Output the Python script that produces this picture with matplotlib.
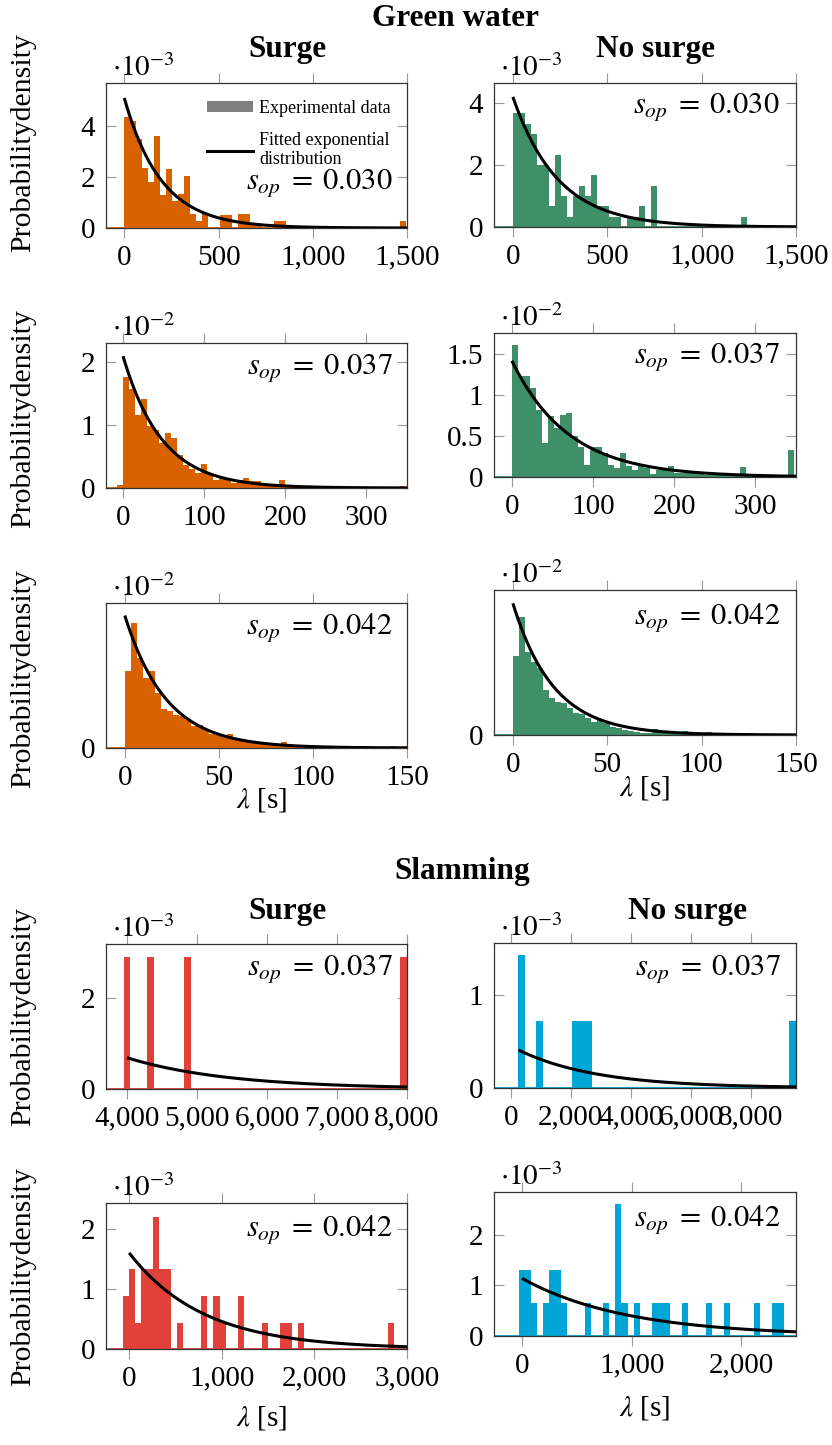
import numpy as np
import matplotlib
matplotlib.use('Agg')
import matplotlib.pyplot as plt
from matplotlib.ticker import FuncFormatter
from matplotlib.patches import Patch
from matplotlib.lines import Line2D

plt.rcParams['font.family'] = ['Liberation Serif', 'DejaVu Serif']
plt.rcParams['mathtext.fontset'] = 'stix'
plt.rcParams['font.size'] = 21

ORANGE = '#D96200'
GREEN = '#3F8F68'
RED = '#E2413A'
BLUE = '#00A6D6'

# ---- Green water histograms (bin start, bin width, heights in scaled units) ----
gw_s030_bins = (0, 31.8)
gw_s030_h = [4.37, 4.2, 3.5, 2.37, 1.8, 3.6, 1.3, 2.33, 1.05, 1.32, 2.04, 0.53, 0.26, 0.53,
             0, 0, 0.5, 0.5, 0, 0.53, 0.53, 0.1, 0.1, 0, 0, 0.26, 0.26,
             0, 0, 0, 0, 0, 0, 0, 0, 0, 0, 0, 0, 0, 0, 0, 0, 0, 0, 0, 0.26]
gw_n030_bins = (0, 31.8)
gw_n030_h = [3.68, 3.68, 3.33, 2.99, 1.99, 1.99, 0.67, 2.31, 0.99, 0.32, 0.99, 1.31, 0.99,
             1.67, 0.67, 0.67, 0.32, 0.32, 0, 0.32, 0.32, 0.67, 0, 1.31,
             0, 0, 0, 0, 0, 0, 0, 0, 0, 0, 0, 0, 0, 0, 0.32]
gw_s037_bins = (-7.4, 7.4)
gw_s037_h = [0.04, 1.77, 1.57, 1.17, 1.42, 0.98, 0.93, 0.72, 0.87, 0.80, 0.52, 0.36, 0.31,
             0.24, 0.39, 0.24, 0.12, 0.16, 0.16, 0.08, 0.12, 0.16, 0.11, 0.11, 0.05, 0.04,
             0.04, 0.13, 0.02, 0.02, 0.01, 0.01, 0.01, 0.01, 0, 0, 0, 0, 0, 0, 0, 0.02,
             0, 0, 0, 0, 0, 0.03]
gw_n037_bins = (0, 7.4)
gw_n037_h = [1.61, 1.24, 1.24, 1.09, 0.82, 0.41, 0.74, 0.60, 0.76, 0.78, 0.50, 0.37, 0.15,
             0.37, 0.37, 0.29, 0.15, 0.11, 0.29, 0.13, 0.08, 0.13, 0.11, 0.04, 0.08, 0.08,
             0.14, 0.05, 0.05, 0.07, 0.07, 0.04, 0.02, 0.04, 0.02, 0.02, 0.02, 0.02, 0.12,
             0.01, 0.01, 0.01, 0.01, 0.01, 0.01, 0.01, 0.33]
gw_s042_bins = (0, 3.2)
gw_s042_h = [2.63, 4.29, 3.09, 2.40, 2.63, 1.89, 1.34, 1.26, 1.15, 1.09, 0.95, 0.74, 0.80,
             0.63, 0.49, 0.44, 0.40, 0.49, 0.31, 0.23, 0.23, 0.17, 0.15, 0.11, 0.11, 0.15,
             0.19, 0.09, 0.06, 0.05, 0.03, 0.03, 0.02, 0.02, 0.02, 0.01, 0.02, 0.06, 0.01,
             0.01, 0.01, 0.01, 0.01, 0.01, 0.06, 0.01, 0.08]
gw_n042_bins = (0, 3.2)
gw_n042_h = [2.79, 4.18, 2.94, 2.59, 2.35, 1.59, 1.32, 1.18, 1.12, 0.94, 0.79, 0.74, 0.59,
             0.47, 0.53, 0.41, 0.29, 0.24, 0.18, 0.15, 0.12, 0.08, 0.08, 0.20, 0.12, 0.08,
             0.06, 0.06, 0.13, 0.04, 0.04, 0.04, 0.09, 0.02, 0.02, 0.02]

# ---- Slamming histograms (bar centres, heights, bar width) ----
sl_s037_x = [4000, 4340, 4860, 7952]
sl_s037_h = [2.92, 2.92, 2.92, 2.92]
sl_s037_w = 95
sl_n037_x = [356, 955, 2155, 2377, 2599, 9389]
sl_n037_h = [1.43, 0.72, 0.72, 0.72, 0.72, 0.72]
sl_n037_w = 222
sl_s042_x = [-32, 33, 98, 163, 228, 293, 358, 423, 553, 813, 943, 1008, 1203, 1463,
             1658, 1723, 1853, 2828]
sl_s042_h = [0.88, 1.33, 0.44, 1.33, 1.33, 2.2, 1.33, 1.33, 0.44, 0.88, 0.88, 0.44, 0.88,
             0.44, 0.44, 0.44, 0.44, 0.44]
sl_s042_w = 65
sl_n042_x = [0, 55, 110, 220, 275, 330, 385, 605, 770, 880, 935, 1045, 1210, 1265, 1320,
             1485, 1705, 1870, 2145, 2310, 2365]
sl_n042_h = [1.31, 1.31, 0.65, 0.65, 1.31, 1.31, 0.65, 0.65, 0.65, 2.61, 0.65, 0.65, 0.65,
             0.65, 0.65, 0.65, 0.65, 0.65, 0.65, 0.65, 0.65]
sl_n042_w = 55

# fitted exponential: (amplitude, scale, x start, x end)
fit_gw_s030 = (5.1, 196, 0, 1500)
fit_gw_n030 = (4.2, 238, 0, 1500)
fit_gw_s037 = (2.1, 48, 0, 350)
fit_gw_n037 = (1.42, 70, 0, 350)
fit_gw_s042 = (4.55, 22, 0, 150)
fit_gw_n042 = (4.65, 21.5, 0, 150)
fit_sl_s037 = (0.69, 1450, 4000, 8000)
fit_sl_n037 = (0.41, 2600, 250, 9500)
fit_sl_s042 = (1.6, 800, 0, 3000)
fit_sl_n042 = (1.14, 950, 0, 2500)

W, H = 832, 1445
fig = plt.figure(figsize=(W / 100, H / 100), dpi=100)


def add_ax(x0, y0, x1, y1):
    return fig.add_axes([x0 / W, 1 - y1 / H, (x1 - x0) / W, (y1 - y0) / H])


def style(ax, color, fit, xlim, xticks, ylim, yticks, expo, sop, sop_xy):
    ax.axhline(0, color=color, lw=1.3, zorder=1)
    x = np.linspace(fit[2], fit[3], 300)
    ax.plot(x, fit[0] * np.exp(-(x - fit[2]) / fit[1]), color='black', lw=2.2, zorder=3,
            solid_capstyle='butt')
    ax.set_xlim(xlim)
    ax.set_ylim(ylim)
    ax.set_xticks(xticks)
    ax.set_yticks(yticks)
    ax.xaxis.set_major_formatter(FuncFormatter(lambda v, p: f'{v:,.0f}'))
    ax.yaxis.set_major_formatter(FuncFormatter(lambda v, p: f'{v:g}'))
    ax.tick_params(axis='x', direction='out', top=True, length=7, width=0.8,
                   color='#999999', pad=5)
    ax.tick_params(axis='y', direction='in', right=True, length=7, width=0.8,
                   color='#999999', pad=8)
    for s in ax.spines.values():
        s.set_linewidth(0.9)
        s.set_color('#333333')
    ax.annotate(r'$\cdot 10^{%d}$' % expo, xy=(0.02, 1.0), xycoords='axes fraction',
                xytext=(0, 1), textcoords='offset points', ha='left', va='bottom')
    ax.text(sop_xy[0], sop_xy[1], r'$s_{op}\;=\;%s$' % sop, transform=ax.transAxes,
            ha='right', va='center', zorder=5, fontsize=22)


def hist(ax, bins, heights, color):
    left = [bins[0] + i * bins[1] for i in range(len(heights))]
    ax.bar(left, heights, width=bins[1], align='edge', color=color, linewidth=0, zorder=2)


# ---------------- Green water ----------------
ax = add_ax(106, 83, 407, 228)
hist(ax, gw_s030_bins, gw_s030_h, ORANGE)
style(ax, ORANGE, fit_gw_s030, (-97, 1500), [0, 500, 1000, 1500], (0, 5.69), [0, 2, 4],
      -3, '0.030', (0.953, 0.31))
ax.legend([Patch(facecolor='#808080', edgecolor='none'), Line2D([], [], color='black', lw=2.2)],
          ['Experimental data', 'Fitted exponential\ndistribution'],
          loc='upper left', bbox_to_anchor=(0.336, 0.885), frameon=False, fontsize=13,
          handlelength=2.55, handleheight=0.55, handletextpad=0.35, labelspacing=0.85,
          borderpad=0, borderaxespad=0)
for t in ax.get_legend().get_texts():
    t.set_linespacing(1.15)

ax = add_ax(494, 83, 796, 227)
hist(ax, gw_n030_bins, gw_n030_h, GREEN)
style(ax, GREEN, fit_gw_n030, (-100, 1500), [0, 500, 1000, 1500], (0, 4.65), [0, 2, 4],
      -3, '0.030', (0.947, 0.83))

ax = add_ax(106, 343, 407, 488)
hist(ax, gw_s037_bins, gw_s037_h, ORANGE)
style(ax, ORANGE, fit_gw_s037, (-21, 350), [0, 100, 200, 300], (0, 2.31), [0, 1, 2],
      -2, '0.037', (0.953, 0.83))

ax = add_ax(494, 333, 796, 477)
hist(ax, gw_n037_bins, gw_n037_h, GREEN)
style(ax, GREEN, fit_gw_n037, (-22, 350), [0, 100, 200, 300], (0, 1.76), [0, 0.5, 1, 1.5],
      -2, '0.037', (0.947, 0.83))

ax = add_ax(106, 603, 407, 748)
hist(ax, gw_s042_bins, gw_s042_h, ORANGE)
style(ax, ORANGE, fit_gw_s042, (-10, 150), [0, 50, 100, 150], (0, 4.98), [0],
      -2, '0.042', (0.953, 0.83))

ax = add_ax(494, 590, 796, 735)
hist(ax, gw_n042_bins, gw_n042_h, GREEN)
style(ax, GREEN, fit_gw_n042, (-10, 150), [0, 50, 100, 150], (0, 5.12), [0],
      -2, '0.042', (0.95, 0.81))

# ---------------- Slamming ----------------
ax = add_ax(106, 944, 407, 1089)
ax.bar(sl_s037_x, sl_s037_h, width=sl_s037_w, color=RED, linewidth=0, zorder=2)
style(ax, RED, fit_sl_s037, (3700, 8000), [4000, 5000, 6000, 7000, 8000], (0, 3.2), [0, 2],
      -3, '0.037', (0.953, 0.825))

ax = add_ax(494, 943, 796, 1088)
ax.bar(sl_n037_x, sl_n037_h, width=sl_n037_w, color=BLUE, linewidth=0, zorder=2)
style(ax, BLUE, fit_sl_n037, (-560, 9500), [0, 2000, 4000, 6000, 8000], (0, 1.56), [0, 1],
      -3, '0.037', (0.95, 0.82))

ax = add_ax(106, 1203, 407, 1349)
ax.bar(sl_s042_x, sl_s042_h, width=sl_s042_w, color=RED, linewidth=0, zorder=2)
style(ax, RED, fit_sl_s042, (-250, 3000), [0, 1000, 2000, 3000], (0, 2.43), [0, 1, 2],
      -3, '0.042', (0.953, 0.82))

ax = add_ax(494, 1192, 796, 1336)
ax.bar(sl_n042_x, sl_n042_h, width=sl_n042_w, color=BLUE, linewidth=0, zorder=2)
style(ax, BLUE, fit_sl_n042, (-256, 2500), [0, 1000, 2000], (0, 2.85), [0, 1, 2],
      -3, '0.042', (0.95, 0.81))

# ---------------- figure texts ----------------
def ftext(x, y, s, **kw):
    fig.text(x / W, 1 - y / H, s, ha='center', va='center', **kw)


ftext(455, 18, 'Green water', fontweight='bold', fontsize=22.5)
ftext(287, 50, 'Surge', fontweight='bold', fontsize=22.5)
ftext(655, 50, 'No surge', fontweight='bold', fontsize=22.5)
ftext(462, 872, 'Slamming', fontweight='bold', fontsize=22.5)
ftext(287, 912, 'Surge', fontweight='bold', fontsize=22.5)
ftext(687, 912, 'No surge', fontweight='bold', fontsize=22.5)

for yc in [142, 418, 678, 1017, 1277]:
    ftext(23, yc, 'Probabilitydensity', rotation=90, fontsize=21.5)

ftext(262, 800, r'$\lambda$ [s]')
ftext(645, 788, r'$\lambda$ [s]')
ftext(262, 1418, r'$\lambda$ [s]')
ftext(645, 1408, r'$\lambda$ [s]')

fig.savefig('out.png', dpi=100)
